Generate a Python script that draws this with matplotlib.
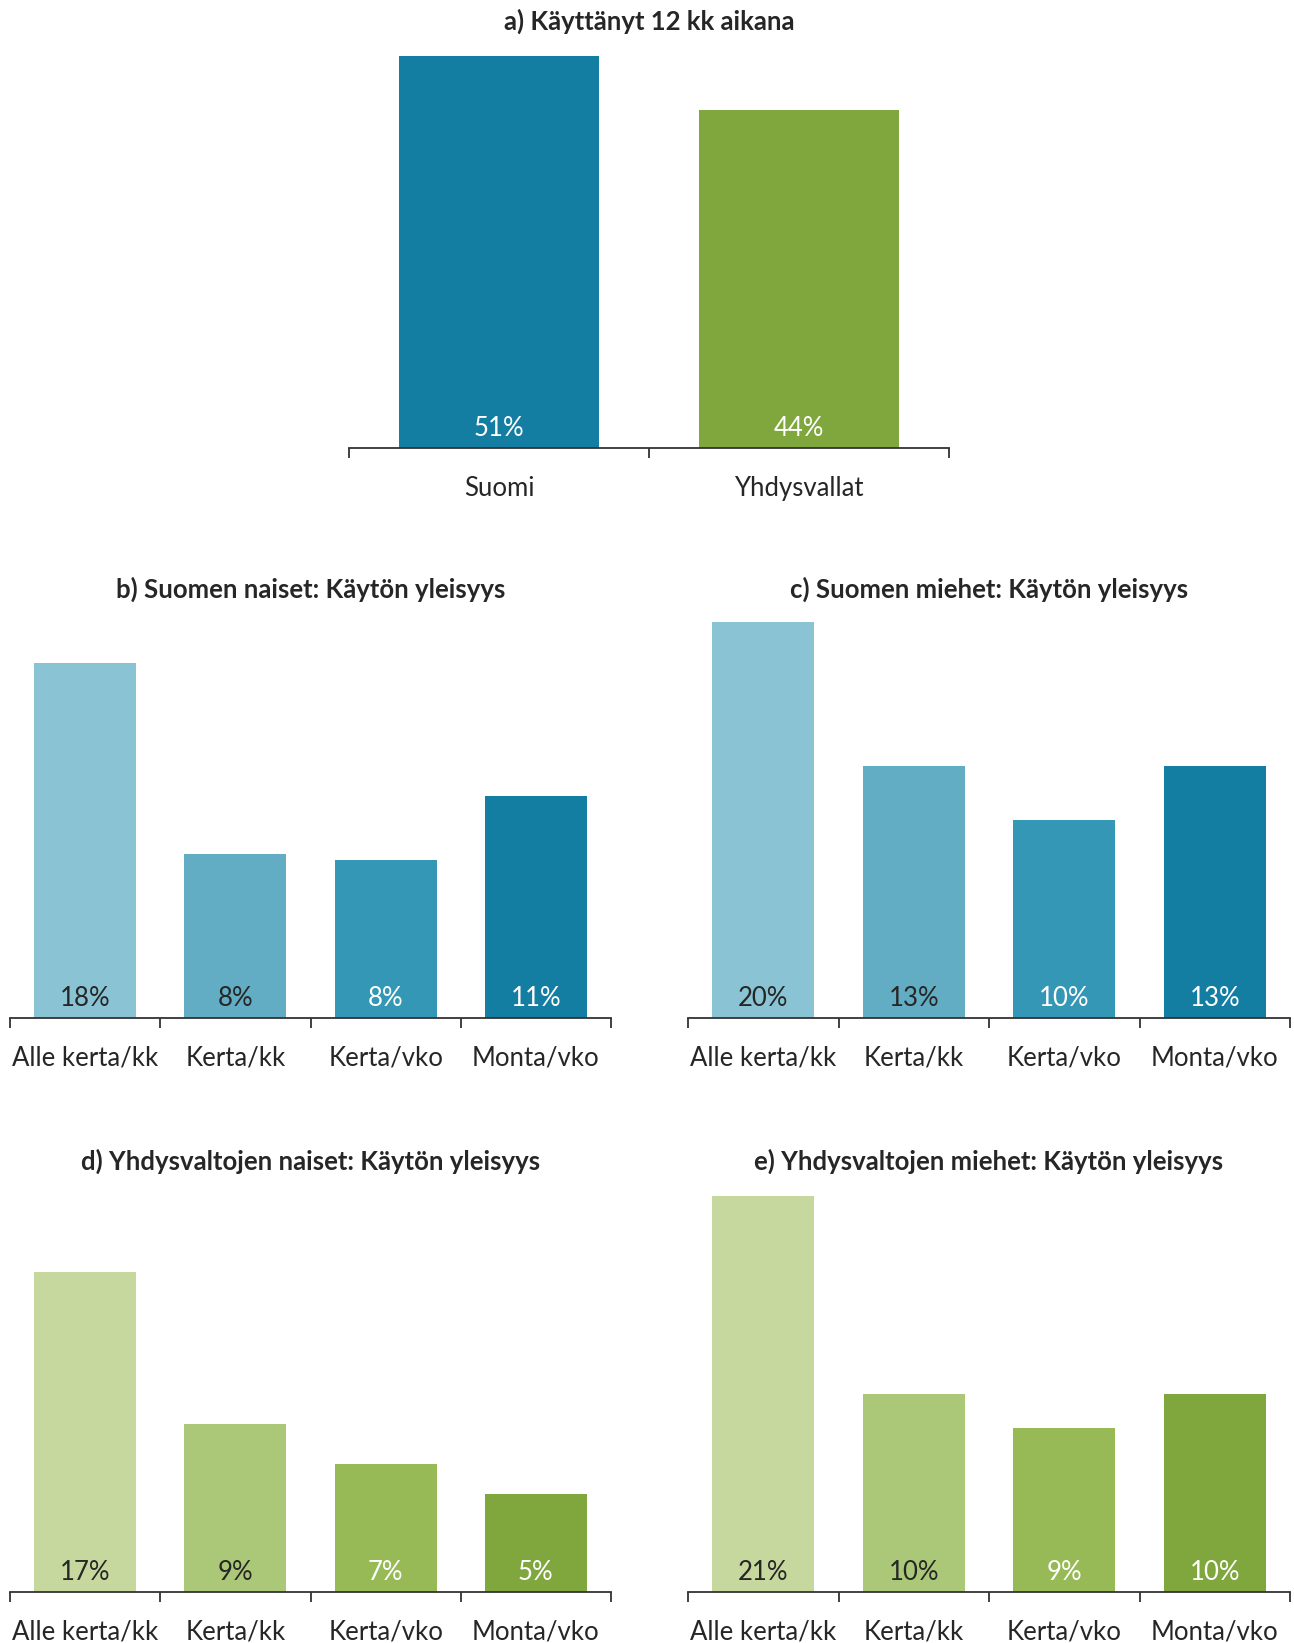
import matplotlib
matplotlib.use("Agg")
import matplotlib.pyplot as plt
import numpy as np

plt.rcParams['font.family'] = ['Lato', 'DejaVu Sans']

# data
countries = ["Suomi", "Yhdysvallat"]
used_12m = [51, 44]
freq_cats = ["Alle kerta/kk", "Kerta/kk", "Kerta/vko", "Monta/vko"]
fi_women = [17.9, 8.3, 8.0, 11.2]
fi_men = [20.0, 12.7, 10.0, 12.7]
us_women = [17.0, 8.9, 6.8, 5.2]
us_men = [21.0, 10.5, 8.7, 10.5]
fi_women_lbl = ["18%", "8%", "8%", "11%"]
fi_men_lbl = ["20%", "13%", "10%", "13%"]
us_women_lbl = ["17%", "9%", "7%", "5%"]
us_men_lbl = ["21%", "10%", "9%", "10%"]

blues = ["#8ac4d4", "#62adc4", "#3497b5", "#147ea2"]
greens = ["#c7d89f", "#abc879", "#97ba56", "#80a73e"]
dark = "#262626"
label_colors = [dark, dark, "white", "white"]

W, H = 1294, 1643
fig = plt.figure(figsize=(W / 100, H / 100), dpi=100)


def make_ax(left, right, base, top):
    # pixel coords -> figure fractions
    return fig.add_axes([left / W, 1 - base / H, (right - left) / W, (base - top) / H])


def draw(ax, cats, vals, labels, colors, lcolors, width, ymax, title, title_y):
    x = np.arange(len(cats))
    ax.bar(x, vals, width=width, color=colors)
    ax.set_xlim(-0.5, len(cats) - 0.5)
    ax.set_ylim(0, ymax)
    for s in ["top", "right", "left"]:
        ax.spines[s].set_visible(False)
    ax.spines["bottom"].set_color("#333333")
    ax.spines["bottom"].set_linewidth(1.3)
    ax.set_yticks([])
    ax.set_xticks(x)
    ax.set_xticklabels(cats, fontsize=18.5, color=dark)
    ax.tick_params(axis="x", length=0, pad=20)
    ax.set_xticks(np.arange(len(cats) + 1) - 0.5, minor=True)
    ax.tick_params(axis="x", which="minor", length=7, width=1.3, color="#333333")
    for xi, lab, c in zip(x, labels, lcolors):
        ax.annotate(lab, (xi, 0), xytext=(0, 20), textcoords="offset pixels",
                    ha="center", va="center", fontsize=18.5, color=c)
    bb = ax.get_position()
    fig.text((bb.x0 + bb.x1) / 2, 1 - title_y / H, title, ha="center", va="center",
             fontsize=18.5, fontweight="bold", color=dark)


ax_a = make_ax(349, 949, 448, 48)
draw(ax_a, countries, used_12m, ["51%", "44%"], [blues[3], greens[3]],
     ["white", "white"], 0.667, 52, "a) Käyttänyt 12 kk aikana", 21)

ax_b = make_ax(10, 611, 1018, 612)
draw(ax_b, freq_cats, fi_women, fi_women_lbl, blues, label_colors, 0.68, 20.5,
     "b) Suomen naiset: Käytön yleisyys", 589)

ax_c = make_ax(688, 1290, 1018, 612)
draw(ax_c, freq_cats, fi_men, fi_men_lbl, blues, label_colors, 0.68, 20.5,
     "c) Suomen miehet: Käytön yleisyys", 589)

ax_d = make_ax(10, 611, 1592, 1187)
draw(ax_d, freq_cats, us_women, us_women_lbl, greens, label_colors, 0.68, 21.5,
     "d) Yhdysvaltojen naiset: Käytön yleisyys", 1161)

ax_e = make_ax(688, 1290, 1592, 1187)
draw(ax_e, freq_cats, us_men, us_men_lbl, greens, label_colors, 0.68, 21.5,
     "e) Yhdysvaltojen miehet: Käytön yleisyys", 1161)

fig.savefig("out.png", dpi=100, facecolor="white")
